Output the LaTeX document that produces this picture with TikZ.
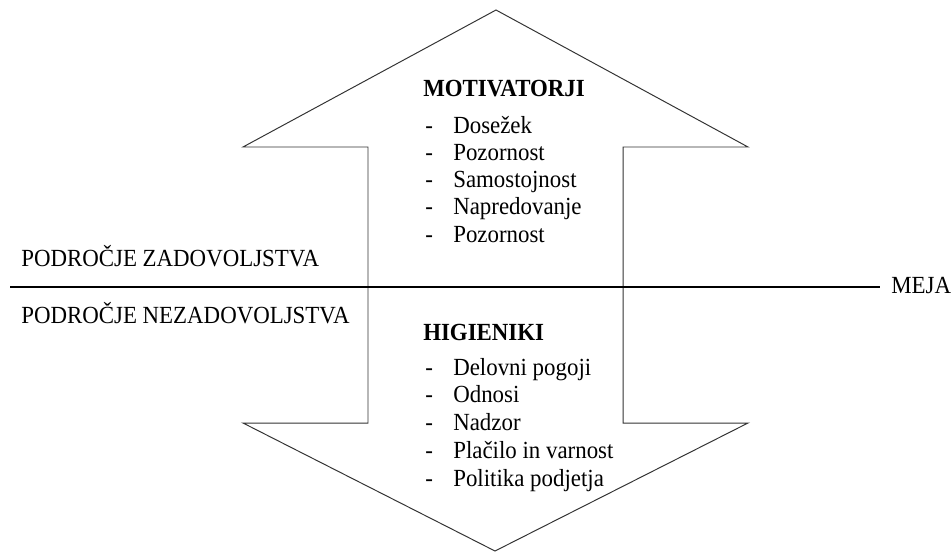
\documentclass[tikz,border=0pt]{standalone}
\usepackage{fontspec}
\setmainfont{Liberation Serif}[FakeStretch=0.93]
\usetikzlibrary{positioning,calc}

\begin{document}
\begin{tikzpicture}[
    x=0.025cm, y=-0.025cm,
    txt/.style={font=\fontsize{17.5}{20}\selectfont, inner sep=0pt, anchor=base west},
    head/.style={txt, font=\fontsize{17.5}{20}\selectfont\bfseries},
    outline/.style={draw=black!80, line width=0.7pt, line join=miter},
    border/.style={draw=black, line width=2.1pt}
  ]
  \useasboundingbox (0,0) rectangle (952,553);
  % Double arrow
  \draw[outline] (496,10) -- (748,147) -- (623,147) -- (623,423)
       -- (748,423) -- (495,551) -- (243,423) -- (368,423)
       -- (368,147) -- (243,147) -- cycle;
  % Border line
  \node[txt] (meja) at (891,293) {MEJA};
  \coordinate (edge) at (10,287);
  \draw[border] (edge) -- (edge -| 880,0);
  % Areas
  \node[txt] (zad) at (21,266) {PODROČJE ZADOVOLJSTVA};
  \node[txt] (nezad) at (21,323) {PODROČJE NEZADOVOLJSTVA};
  % Motivators
  \node[head] (mot) at (423,96) {MOTIVATORJI};
  \foreach \item [count=\i] in {Dosežek, Pozornost, Samostojnost,
                                Napredovanje, Pozornost} {
    \node[txt] (motdash\i) at (425,{106+27.2*\i}) {-};
    \node[txt] (mot\i) at (453,{106+27.2*\i}) {\item};
  }
  % Hygiene factors
  \node[head] (hig) at (423,340) {HIGIENIKI};
  \foreach \item [count=\i] in {Delovni pogoji, Odnosi, Nadzor,
                                Plačilo in varnost, Politika podjetja} {
    \node[txt] (higdash\i) at (425,{347.5+27.7*\i}) {-};
    \node[txt] (hig\i) at (453,{347.5+27.7*\i}) {\item};
  }
\end{tikzpicture}
\end{document}
